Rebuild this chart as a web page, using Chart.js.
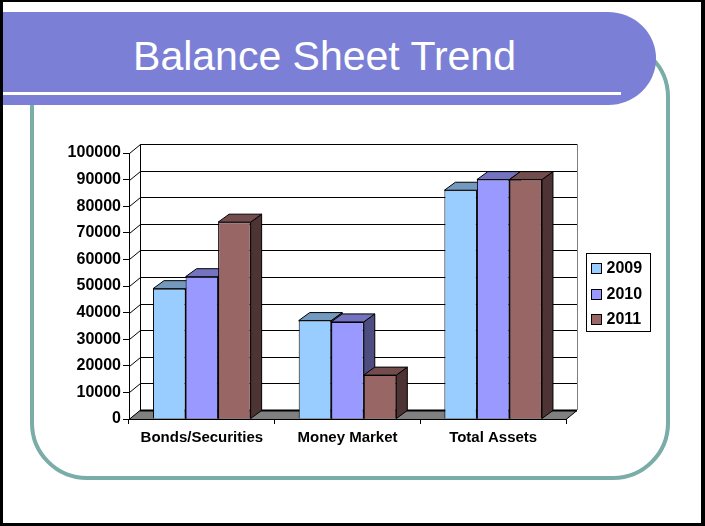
<!DOCTYPE html>
<html>
<head>
<meta charset="utf-8">
<script src="https://cdn.jsdelivr.net/npm/chart.js@4.4.1/dist/chart.umd.min.js"></script>
<style>
  html, body { margin: 0; padding: 0; background: #fff; }
  #slide {
    position: relative; width: 705px; height: 526px; overflow: hidden;
    box-sizing: border-box; background: #fff;
    border-style: solid; border-color: #000;
    border-width: 2px 4px 3px 3px;
  }
  #frame {
    position: absolute; left: 27px; top: 38px; width: 640px; height: 440px;
    box-sizing: border-box; border: 4px solid #7aaca8; border-radius: 57px;
  }
  #banner {
    position: absolute; left: 0; top: 10px; width: 653px; height: 93px;
    background: #7b80d6; border-radius: 0 48px 48px 0 / 0 46px 46px 0;
  }
  #banner-line {
    position: absolute; left: 0; top: 90px; width: 618px; height: 3px; background: #fff;
  }
  #title {
    position: absolute; left: 0; top: 34px; width: 643px; height: 41px;
    line-height: 41px; text-align: center; color: #fff;
    font-family: "Liberation Sans", Arial, sans-serif; font-size: 41px;
  }
  #chart { position: absolute; left: -3px; top: -2px; }
</style>
</head>
<body>
<div id="slide">
  <div id="frame"></div>
  <div id="banner"></div>
  <div id="banner-line"></div>
  <div id="title">Balance Sheet Trend</div>
  <canvas id="chart" width="705" height="526"></canvas>
</div>
<script>
const categories = ["Bonds/Securities", "Money Market", "Total Assets"];
const seriesLabels = ["2009", "2010", "2011"];
const values2009 = [49000, 37000, 86000];
const values2010 = [53500, 36500, 90000];
const values2011 = [74000, 16500, 90000];
const yMax = 100000;
const yStep = 10000;

const frontColors = ["#99ccff", "#9999ff", "#996666"];
const topColors = ["#7399bf", "#7373bf", "#734d4d"];
const sideColors = ["#4d6680", "#4d4d80", "#4d3333"];

// depth of the back wall and of each bar (x right, y up)
const WALL_DX = 11, WALL_DY = -9;
const BAR_DX = 11, BAR_DY = -8;

Chart.defaults.font.family = "'Liberation Sans', Arial, sans-serif";
Chart.defaults.color = "#000";

const poly = (ctx, pts, fill) => {
  ctx.beginPath();
  ctx.moveTo(pts[0][0], pts[0][1]);
  for (let i = 1; i < pts.length; i++) ctx.lineTo(pts[i][0], pts[i][1]);
  ctx.closePath();
  ctx.fillStyle = fill;
  ctx.fill();
  ctx.stroke();
};

// walls, floor and the top/side faces of the bars
const depthPlugin = {
  id: "depth",
  beforeDatasetsDraw(chart) {
    const ctx = chart.ctx;
    const { left, right, top, bottom } = chart.chartArea;
    const y = chart.scales.y;
    ctx.save();
    ctx.lineWidth = 1;
    ctx.strokeStyle = "#000";

    // back wall edges
    ctx.beginPath();
    ctx.moveTo(left + WALL_DX + 0.5, bottom + WALL_DY);
    ctx.lineTo(left + WALL_DX + 0.5, top + WALL_DY + 0.5);
    ctx.lineTo(right + WALL_DX + 0.5, top + WALL_DY + 0.5);
    ctx.stroke();
    ctx.strokeStyle = "#808080";
    ctx.beginPath();
    ctx.moveTo(right + WALL_DX + 0.5, top + WALL_DY + 0.5);
    ctx.lineTo(right + WALL_DX + 0.5, bottom + WALL_DY);
    ctx.stroke();

    // gridlines on the back wall and the left wall
    ctx.strokeStyle = "#000";
    y.ticks.forEach((t) => {
      const py = Math.round(y.getPixelForValue(t.value)) + 0.5;
      ctx.beginPath();
      ctx.moveTo(left + 0.5, py);
      ctx.lineTo(left + WALL_DX + 0.5, py + WALL_DY);
      ctx.lineTo(right + WALL_DX, py + WALL_DY);
      ctx.stroke();
    });

    // floor
    const by = Math.round(bottom) + 0.5;
    poly(ctx, [
      [left, by], [right, by],
      [right + WALL_DX, by + WALL_DY], [left + WALL_DX, by + WALL_DY],
    ], "#808080");
    ctx.lineWidth = 2;
    ctx.beginPath();
    ctx.moveTo(left + WALL_DX, by + WALL_DY);
    ctx.lineTo(right + WALL_DX, by + WALL_DY);
    ctx.stroke();
    ctx.lineWidth = 1;

    // bar tops and sides, left to right
    categories.forEach((c, j) => {
      chart.data.datasets.forEach((ds, i) => {
        const el = chart.getDatasetMeta(i).data[j];
        const p = el.getProps(["x", "y", "base", "width"], true);
        const x0 = p.x - p.width / 2, x1 = p.x + p.width / 2;
        poly(ctx, [
          [x1, p.y], [x1 + BAR_DX, p.y + BAR_DY],
          [x1 + BAR_DX, p.base + BAR_DY], [x1, p.base],
        ], sideColors[i]);
        poly(ctx, [
          [x0, p.y], [x0 + BAR_DX, p.y + BAR_DY],
          [x1 + BAR_DX, p.y + BAR_DY], [x1, p.y],
        ], topColors[i]);
      });
    });
    ctx.restore();
  },
};

// boxed legend to the right of the plot
const boxLegend = {
  id: "boxLegend",
  afterDraw(chart) {
    const ctx = chart.ctx;
    const bx = chart.chartArea.right + 20.5;
    const by = 253.5;
    ctx.save();
    ctx.fillStyle = "#fff";
    ctx.strokeStyle = "#000";
    ctx.lineWidth = 1;
    ctx.fillRect(bx, by, 64, 78);
    ctx.strokeRect(bx, by, 64, 78);
    ctx.font = "bold 16px 'Liberation Sans', Arial, sans-serif";
    ctx.textBaseline = "middle";
    chart.data.datasets.forEach((ds, i) => {
      const cy = by + 14.5 + i * 25.5;
      ctx.fillStyle = ds.backgroundColor;
      ctx.fillRect(bx + 5, Math.round(cy - 5) + 0.5, 10, 10);
      ctx.strokeRect(bx + 5, Math.round(cy - 5) + 0.5, 10, 10);
      ctx.fillStyle = "#000";
      ctx.fillText(ds.label, bx + 20, cy + 1);
    });
    ctx.restore();
  },
};

const seriesValues = [values2009, values2010, values2011];

new Chart(document.getElementById("chart"), {
  type: "bar",
  data: {
    labels: categories,
    datasets: seriesLabels.map((label, i) => ({
      label: label,
      data: seriesValues[i],
      backgroundColor: frontColors[i],
      borderColor: "#000",
      borderWidth: 1,
      categoryPercentage: 0.67,
      barPercentage: 1.0,
    })),
  },
  options: {
    responsive: false,
    animation: false,
    devicePixelRatio: 1,
    layout: { padding: { left: 20, right: 139, top: 153, bottom: 77 } },
    plugins: {
      legend: { display: false },
      tooltip: { enabled: false },
    },
    scales: {
      x: {
        offset: true,
        grid: { offset: true, drawOnChartArea: false, tickLength: 5, color: "#000" },
        border: { color: "#000" },
        ticks: { font: { size: 15, weight: "bold" }, padding: 5 },
        afterFit: (s) => { s.height = 30; },
      },
      y: {
        min: 0,
        max: yMax,
        grid: { drawOnChartArea: false, tickLength: 6, color: "#000" },
        border: { color: "#000" },
        ticks: {
          stepSize: yStep,
          font: { size: 16, weight: "bold" },
          padding: 2,
          callback: (v) => String(v),
        },
        afterFit: (s) => { s.width = 109; },
      },
    },
  },
  plugins: [depthPlugin, boxLegend],
});
</script>
</body>
</html>
